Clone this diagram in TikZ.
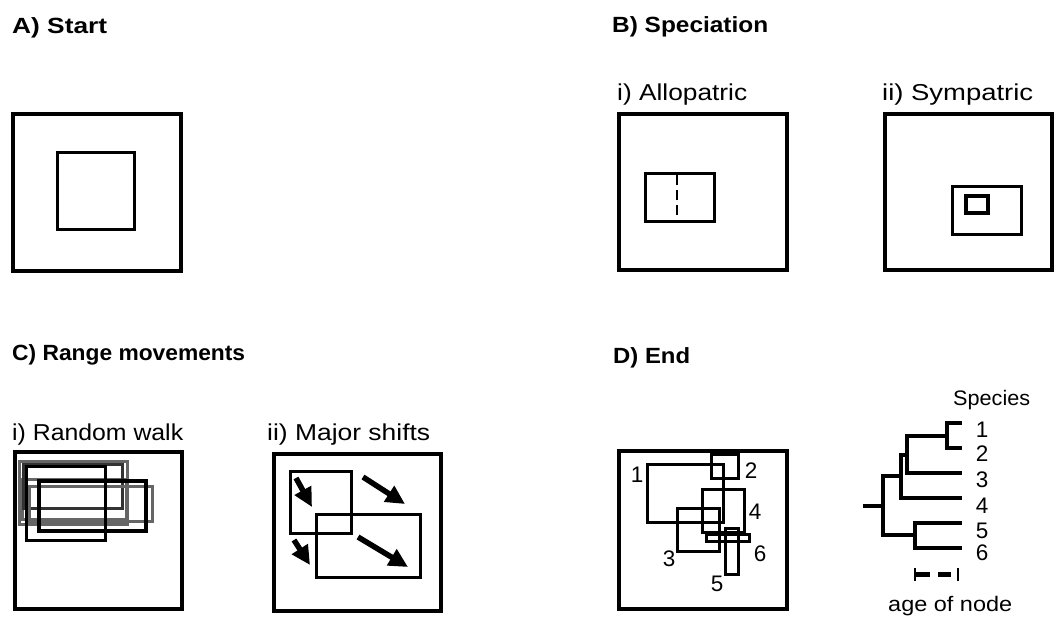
\documentclass[tikz,border=0pt]{standalone}
\usepackage{fontspec}
\setmainfont{Liberation Sans}
\usepackage{graphicx}
\usetikzlibrary{arrows.meta}
\newcommand{\fitw}[2]{\resizebox{#1pt}{\height}{#2}}
\tikzset{
  txt/.style={inner sep=0pt, anchor=base west, font=\fontsize{23}{23}\selectfont},
  ttl/.style={txt, font=\fontsize{22}{22}\selectfont\bfseries},
  small/.style={inner sep=0pt, anchor=base west, font=\fontsize{21}{21}\selectfont},
  num/.style={inner sep=0pt, anchor=center, font=\fontsize{22.5}{22.5}\selectfont},
  outerbox/.style={line width=4pt},
  innerbox/.style={line width=3pt},
  graybox/.style={line width=3pt, draw=black!60},
  darkbox/.style={line width=3pt, draw=black!80},
  tree/.style={line width=3.4pt},
  shiftarrow/.style={line width=5.5pt, -{Triangle[length=19pt,width=18pt]}}
}
\begin{document}
\begin{tikzpicture}[x=1pt,y=-1pt]
\fill[white] (0,0) rectangle (1055,616);
\useasboundingbox (0,0) rectangle (1055,616);

% titles
\node[ttl] (tA) at (12,33) {\fitw{95}{A) Start}};
\node[ttl] (tB) at (612,32) {\fitw{156}{B) Speciation}};
\node[ttl] (tC) at (12,360) {\fitw{233}{C) Range movements}};
\node[ttl] (tD) at (613,363) {\fitw{77}{D) End}};

% subtitles
\node[txt] (sBi) at (617,100) {\fitw{130}{i) Allopatric}};
\node[txt] (sBii) at (882,100) {\fitw{151}{ii) Sympatric}};
\node[txt] (sCi) at (12,440) {\fitw{171}{i) Random walk}};
\node[txt] (sCii) at (267,440) {\fitw{163}{ii) Major shifts}};

% Panel A
\draw[outerbox] (12.5,113.5) rectangle (180.5,270.5);
\draw[innerbox] (57.5,152.5) rectangle (134.5,229.5);

% Panel B i
\draw[outerbox] (618.5,113.5) rectangle (786.5,269.5);
\draw[innerbox] (645.5,173.5) rectangle (714.5,221.5);
\draw[line width=2.8pt, dash pattern=on 10pt off 5pt] (677,175) -- (677,221);

% Panel B ii
\draw[outerbox] (884.5,113.5) rectangle (1051.5,269.5);
\draw[innerbox] (952.5,186.5) rectangle (1021.5,234.5);
\draw[line width=3.3pt] (966,196) rectangle (988,213);

% Panel C i
\draw[outerbox] (14.5,451.5) rectangle (181.5,608.5);
\draw[graybox] (19,461) rectangle (127,524);
\draw[graybox] (22,479) rectangle (126,519);
\draw[darkbox] (23,464) rectangle (122,508);
\draw[graybox] (29,486) rectangle (152,521);
\draw[innerbox] (26,466) rectangle (105,540);
\draw[line width=3.3pt] (39,481) rectangle (146,531);

% Panel C ii
\draw[outerbox] (273.5,453.5) rectangle (440.5,610.5);
\draw[innerbox] (290,471) rectangle (351,533);
\draw[innerbox] (316,514) rectangle (420,577);
\coordinate (a1s) at (296,478); \coordinate (a1e) at (312,507);
\coordinate (a2s) at (363,477); \coordinate (a2e) at (405,504);
\coordinate (a3s) at (294,540); \coordinate (a3e) at (310,565);
\coordinate (a4s) at (358,537); \coordinate (a4e) at (408,567);
\draw[shiftarrow] (a1s) -- (a1e);
\draw[shiftarrow] (a2s) -- (a2e);
\draw[shiftarrow] (a3s) -- (a3e);
\draw[shiftarrow] (a4s) -- (a4e);

% Panel D map
\draw[outerbox] (618.5,450.5) rectangle (786.5,608.5);
\draw[innerbox] (647,464) rectangle (723,522);
\draw[innerbox] (711,454) rectangle (738,478);
\draw[innerbox] (677,508) rectangle (719,551);
\draw[innerbox] (702,489) rectangle (744,532);
\draw[innerbox] (725,528) rectangle (738,574);
\draw[innerbox] (706,534) rectangle (749,541);
\node[num] (m1) at (637,475) {1};
\node[num] (m2) at (751,471) {2};
\node[num] (m3) at (669,559) {3};
\node[num] (m4) at (755,512) {4};
\node[num] (m5) at (717,584) {5};
\node[num] (m6) at (760,554) {6};

% Panel D tree
\node[small] (sp) at (953,405) {\fitw{77}{Species}};
\node[num] (t1) at (982,430) {1};
\node[num] (t2) at (982,454) {2};
\node[num] (t3) at (982,480) {3};
\node[num] (t4) at (982,506) {4};
\node[num] (t5) at (982,531) {5};
\node[num] (t6) at (982,553) {6};
\draw[tree] (962,423) -- (947,423) -- (947,448) -- (962,448);
\draw[tree] (947,436) -- (907,436) -- (907,473) -- (962,473);
\draw[tree] (907,455) -- (901,455) -- (901,498) -- (962,498);
\draw[tree] (962,523) -- (915,523) -- (915,548) -- (962,548);
\draw[tree] (901,476) -- (883,476) -- (883,535) -- (915,535);
\draw[tree] (863,506) -- (883,506);

% scale bar
\draw[line width=2.5pt] (915,568) -- (915,581);
\draw[line width=4.5pt] (915,574.5) -- (930,574.5);
\draw[line width=4.5pt] (938,574.5) -- (951,574.5);
\draw[line width=1.8pt] (958,568) -- (958,581);
\node[small] (age) at (888,611) {\fitw{124}{age of node}};
\end{tikzpicture}
\end{document}
